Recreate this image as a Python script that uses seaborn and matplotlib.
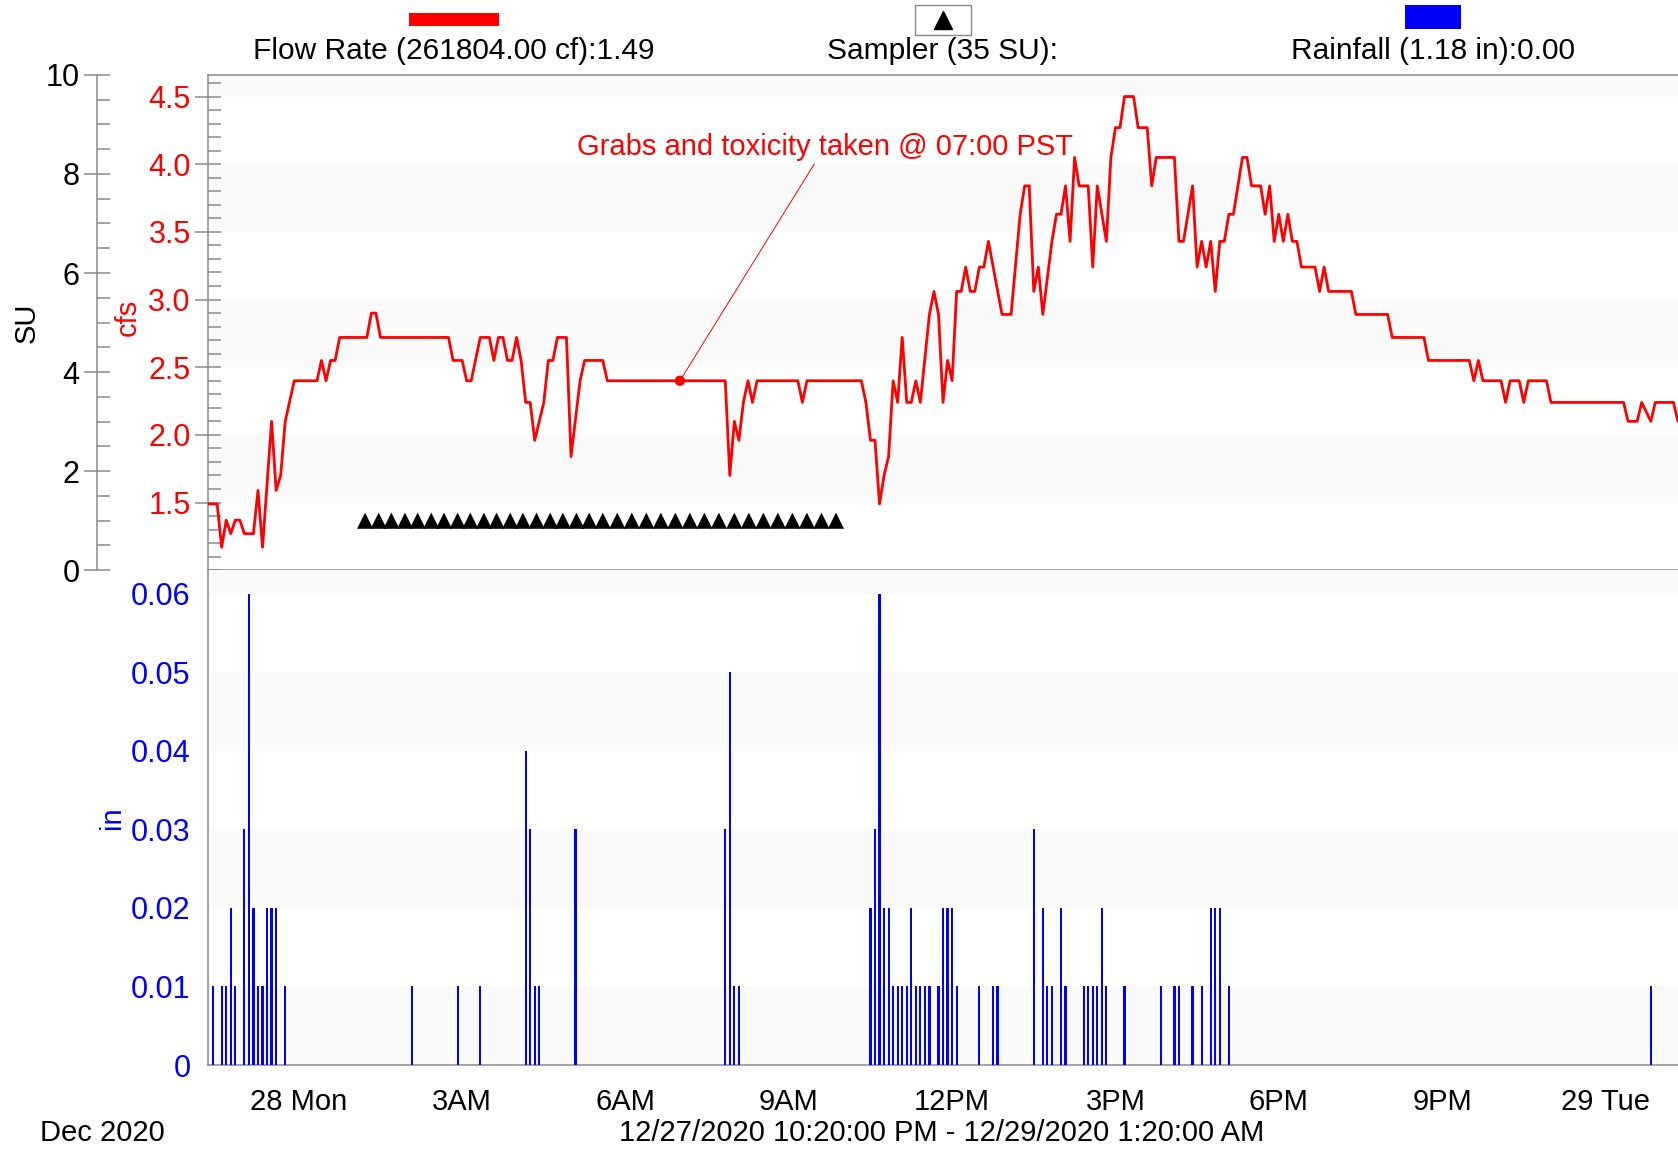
import numpy as np
import pandas as pd
import matplotlib
matplotlib.use("Agg")
import matplotlib.pyplot as plt
import matplotlib.dates as mdates
from matplotlib.ticker import MultipleLocator, FuncFormatter, FixedLocator
from matplotlib.patches import Rectangle
from matplotlib.lines import Line2D
import seaborn as sns

# ---------------- data ----------------
START = "2020-12-27 22:20"
END = "2020-12-29 01:20"

# flow rate (cfs) - minutes after START
flow_minutes = [0, 10, 15, 20, 25, 30, 35, 40, 50, 55, 60, 70, 75, 80, 85, 95, 120, 125, 130, 135,
                140, 145, 175, 180, 185, 190, 265, 270, 280, 285, 290, 300, 310, 315, 320, 325, 330,
                335, 340, 345, 350, 355, 360, 370, 375, 380, 385, 395, 400, 410, 415, 435, 440, 570,
                575, 580, 585, 590, 595, 600, 605, 650, 655, 660, 720, 725, 730, 735, 740, 745, 750,
                755, 760, 765, 770, 775, 780, 785, 795, 800, 805, 810, 815, 820, 825, 830, 835, 840,
                845, 850, 855, 860, 875, 885, 895, 900, 905, 910, 915, 920, 930, 935, 940, 945, 950,
                955, 960, 970, 975, 980, 990, 995, 1000, 1005, 1010, 1020, 1025, 1035, 1040, 1045,
                1065, 1070, 1075, 1085, 1090, 1095, 1100, 1105, 1110, 1115, 1120, 1125, 1130, 1140,
                1145, 1150, 1160, 1165, 1170, 1175, 1180, 1185, 1190, 1195, 1200, 1205, 1220, 1225,
                1230, 1235, 1260, 1265, 1300, 1305, 1340, 1345, 1390, 1395, 1400, 1405, 1425, 1430,
                1435, 1445, 1450, 1455, 1475, 1480, 1560, 1565, 1575, 1580, 1590, 1595, 1615, 1620]
flow_cfs = [1.49, 1.49, 1.17, 1.37, 1.27, 1.37, 1.37, 1.27, 1.27, 1.59, 1.17, 2.10, 1.59, 1.70, 2.10,
            2.40, 2.40, 2.55, 2.40, 2.55, 2.55, 2.72, 2.72, 2.90, 2.90, 2.72, 2.72, 2.55, 2.55, 2.40,
            2.40, 2.72, 2.72, 2.55, 2.72, 2.72, 2.55, 2.55, 2.72, 2.55, 2.24, 2.24, 1.96, 2.24, 2.55,
            2.55, 2.72, 2.72, 1.84, 2.40, 2.55, 2.55, 2.40, 2.40, 1.70, 2.10, 1.96, 2.24, 2.40, 2.24,
            2.40, 2.40, 2.24, 2.40, 2.40, 2.24, 1.96, 1.96, 1.49, 1.70, 1.84, 2.40, 2.24, 2.72, 2.24,
            2.24, 2.40, 2.24, 2.89, 3.06, 2.89, 2.24, 2.55, 2.40, 3.06, 3.06, 3.24, 3.06, 3.06, 3.24,
            3.24, 3.43, 2.89, 2.89, 3.63, 3.84, 3.84, 3.06, 3.24, 2.89, 3.43, 3.63, 3.63, 3.84, 3.43,
            4.05, 3.84, 3.84, 3.24, 3.84, 3.43, 4.05, 4.27, 4.27, 4.50, 4.50, 4.27, 4.27, 3.84, 4.05,
            4.05, 3.43, 3.43, 3.84, 3.24, 3.43, 3.24, 3.43, 3.06, 3.43, 3.43, 3.63, 3.63, 4.05, 4.05,
            3.84, 3.84, 3.63, 3.84, 3.43, 3.63, 3.43, 3.63, 3.43, 3.43, 3.24, 3.24, 3.06, 3.24, 3.06,
            3.06, 2.89, 2.89, 2.72, 2.72, 2.55, 2.55, 2.40, 2.55, 2.40, 2.40, 2.24, 2.40, 2.40, 2.24,
            2.40, 2.40, 2.24, 2.24, 2.10, 2.10, 2.24, 2.10, 2.24, 2.24, 2.10]

# sampler events (SU axis) - minutes after START
sampler_minutes = [173, 188, 202, 217, 231, 246, 260, 275, 289, 304, 318, 333, 347, 362, 377, 391,
                   406, 420, 435, 451, 467, 483, 499, 515, 531, 547, 563, 580, 596, 612, 628, 644,
                   660, 676, 692]
sampler_su = [1.0] * len(sampler_minutes)

# rainfall (in) - minutes after START
rain_minutes = [5, 15, 20, 25, 30, 40, 45, 50, 55, 60, 65, 70, 75, 85, 225, 275, 300, 350, 355, 360,
                365, 405, 570, 575, 580, 585, 730, 735, 740, 745, 750, 755, 760, 765, 770, 775, 780,
                785, 790, 795, 805, 810, 815, 820, 825, 850, 865, 870, 910, 920, 925, 930, 940, 945,
                965, 970, 975, 980, 985, 990, 1010, 1050, 1065, 1070, 1085, 1095, 1105, 1110, 1115,
                1125, 1590]
rain_in = [0.01, 0.01, 0.01, 0.02, 0.01, 0.03, 0.06, 0.02, 0.01, 0.01, 0.02, 0.02, 0.02, 0.01, 0.01,
           0.01, 0.01, 0.04, 0.03, 0.01, 0.01, 0.03, 0.03, 0.05, 0.01, 0.01, 0.02, 0.03, 0.06, 0.02,
           0.02, 0.01, 0.01, 0.01, 0.01, 0.02, 0.01, 0.01, 0.01, 0.01, 0.01, 0.02, 0.02, 0.02, 0.01,
           0.01, 0.01, 0.01, 0.03, 0.02, 0.01, 0.01, 0.02, 0.01, 0.01, 0.01, 0.01, 0.01, 0.02, 0.01,
           0.01, 0.01, 0.01, 0.01, 0.01, 0.01, 0.02, 0.02, 0.02, 0.01, 0.01]

grab_minute = 520
grab_cfs = 2.40
grab_text = "Grabs and toxicity taken @ 07:00 PST"

legend_flow = "Flow Rate (261804.00 cf):1.49"
legend_sampler = "Sampler (35 SU):"
legend_rain = "Rainfall (1.18 in):0.00"
range_text = "12/27/2020 10:20:00 PM - 12/29/2020 1:20:00 AM"
month_text = "Dec 2020"

# ---------------- helpers ----------------
t0 = mdates.date2num(pd.Timestamp(START).to_pydatetime())
t1 = mdates.date2num(pd.Timestamp(END).to_pydatetime())

def to_x(mins):
    return t0 + np.asarray(mins, dtype=float) / 1440.0

flow_x = to_x(flow_minutes)
sampler_x = to_x(sampler_minutes)
rain_x = to_x(rain_minutes)
grab_x = float(to_x([grab_minute])[0])

# ---------------- style ----------------
sns.set_theme(style="white")
plt.rcParams['font.family'] = ['Liberation Sans', 'DejaVu Sans']
FS = 21
SPINE = '#8a8a8a'
RED = '#ff0000'
BLUE = '#0000ff'
BAND = '#fafafa'

fig = plt.figure(figsize=(16.78, 11.52), dpi=100)
ax1 = fig.add_axes([0.124, 0.505, 0.876, 0.430])
ax2 = fig.add_axes([0.124, 0.0755, 0.876, 0.4295])

# background bands
for lo, hi in [(1.5, 2.0), (2.5, 3.0), (3.5, 4.0), (4.5, 4.66)]:
    ax1.axhspan(lo, hi, color=BAND, zorder=0, lw=0)
for lo, hi in [(0.0, 0.01), (0.02, 0.03), (0.04, 0.05), (0.06, 0.063)]:
    ax2.axhspan(lo, hi, color=BAND, zorder=0, lw=0)

# flow line
sns.lineplot(x=flow_x, y=flow_cfs, ax=ax1, color=RED, linewidth=2.0, sort=False,
             estimator=None, zorder=3)
sns.scatterplot(x=[grab_x], y=[grab_cfs], ax=ax1, color=RED, s=55, edgecolor='none', zorder=4)
ax1.annotate(grab_text, xy=(grab_x, grab_cfs), xytext=(t0 + 680 / 1440.0, 4.13),
             textcoords='data', ha='center', va='center', color=RED, fontsize=FS,
             arrowprops=dict(arrowstyle='-', color=RED, lw=0.7, shrinkA=0, shrinkB=2))

ax1.set_xlim(t0, t1)
ax1.set_ylim(1.0, 4.66)
ax1.yaxis.set_major_locator(FixedLocator([1.5, 2.0, 2.5, 3.0, 3.5, 4.0, 4.5]))
ax1.yaxis.set_minor_locator(MultipleLocator(0.1))
ax1.yaxis.set_major_formatter(FuncFormatter(lambda v, p: f"{v:.1f}"))
ax1.tick_params(axis='y', which='major', direction='inout', length=19, width=1.1,
                color=SPINE, labelcolor=RED, labelsize=FS + 1, pad=3)
ax1.tick_params(axis='y', which='minor', direction='in', length=9.5, width=1.1, color=SPINE)
ax1.tick_params(axis='x', which='both', bottom=False, labelbottom=False)
ax1.set_ylabel('cfs', color=RED, fontsize=FS)
ax1.yaxis.set_label_coords(-0.045, 0.51)
ax1.set_xlabel('')

# SU axis with sampler triangles
ax_su = ax1.twinx()
ax_su.set_ylim(0, 10)
ax_su.set_xlim(t0, t1)
sns.scatterplot(x=sampler_x, y=sampler_su, ax=ax_su, marker='^', s=135, color='black',
                edgecolor='none', zorder=5)
ax_su.yaxis.tick_left()
ax_su.yaxis.set_label_position('left')
ax_su.spines['left'].set_position(('axes', -0.0755))
ax_su.yaxis.set_major_locator(MultipleLocator(2))
ax_su.yaxis.set_minor_locator(MultipleLocator(0.5))
ax_su.yaxis.set_major_formatter(FuncFormatter(lambda v, p: f"{v:.0f}"))
ax_su.tick_params(axis='y', which='major', direction='inout', length=19, width=1.1,
                  color=SPINE, labelcolor='black', labelsize=FS + 1, pad=3)
ax_su.tick_params(axis='y', which='minor', direction='in', length=9.5, width=1.1, color=SPINE)
ax_su.set_ylabel('SU', color='black', fontsize=FS)
ax_su.yaxis.set_label_coords(-0.114, 0.5)
for s in ['right', 'top', 'bottom']:
    ax_su.spines[s].set_visible(False)
ax_su.spines['left'].set_visible(True)
ax_su.spines['left'].set_color(SPINE)
ax_su.spines['left'].set_linewidth(1.1)
ax_su.set_xlabel('')

# rainfall bars
ax2.bar(rain_x, rain_in, width=2.4 / 1440.0, color=BLUE, linewidth=0, align='center', zorder=3)
ax2.set_xlim(t0, t1)
ax2.set_ylim(0, 0.063)
ax2.yaxis.set_major_locator(MultipleLocator(0.01))
ax2.yaxis.set_minor_locator(MultipleLocator(0.005))
ax2.yaxis.set_major_formatter(FuncFormatter(lambda v, p: "0" if abs(v) < 1e-9 else f"{v:.2f}"))
ax2.tick_params(axis='y', which='major', direction='inout', length=19, width=1.1,
                color=SPINE, labelcolor=BLUE, labelsize=FS + 1, pad=3)
ax2.tick_params(axis='y', which='minor', direction='in', length=9.5, width=1.1, color=SPINE)
ax2.set_ylabel('in', color=BLUE, fontsize=FS)
ax2.yaxis.set_label_coords(-0.056, 0.5)

ax2.xaxis.set_major_locator(mdates.HourLocator(byhour=range(0, 24, 3)))
ax2.xaxis.set_minor_locator(mdates.HourLocator())

def xfmt(v, pos):
    d = mdates.num2date(v)
    if d.hour == 0:
        return f"{d.day} {d:%a}"
    h = d.hour % 12 or 12
    return f"{h}{'AM' if d.hour < 12 else 'PM'}"

ax2.xaxis.set_major_formatter(FuncFormatter(xfmt))
ax2.tick_params(axis='x', which='major', direction='inout', length=23, width=1.1,
                color=SPINE, labelcolor='black', labelsize=FS, pad=5)
ax2.tick_params(axis='x', which='minor', direction='in', length=8.5, width=1.1, color=SPINE)
ax2.set_xlabel('')

for ax in (ax1, ax2):
    for s in ax.spines.values():
        s.set_color(SPINE)
        s.set_linewidth(1.1)
    ax.spines['right'].set_visible(False)
    ax.set_facecolor('white')
ax2.spines['top'].set_visible(False)

# header legend
fig.add_artist(Rectangle((0.2436, 0.9777), 0.0536, 0.0112, transform=fig.transFigure,
                         facecolor=RED, edgecolor='none'))
fig.add_artist(Rectangle((0.5453, 0.9694), 0.0332, 0.0260, transform=fig.transFigure,
                         facecolor='white', edgecolor='#888888', linewidth=1.0))
fig.add_artist(Line2D([0.5619], [0.9824], transform=fig.transFigure, marker='^',
                      markersize=13, color='black', linestyle='none'))
fig.add_artist(Rectangle((0.8371, 0.9746), 0.0334, 0.0211, transform=fig.transFigure,
                         facecolor=BLUE, edgecolor='none'))
fig.text(0.2704, 0.9555, legend_flow, ha='center', va='center', fontsize=FS + 0.5, color='black')
fig.text(0.5614, 0.9555, legend_sampler, ha='center', va='center', fontsize=FS + 0.5, color='black')
fig.text(0.8540, 0.9555, legend_rain, ha='center', va='center', fontsize=FS + 0.5, color='black')

fig.text(0.0612, 0.0165, month_text, ha='center', va='center', fontsize=FS, color='black')
fig.text(0.5613, 0.0165, range_text, ha='center', va='center', fontsize=FS, color='black')

fig.savefig("out.png", dpi=100, facecolor='white')
